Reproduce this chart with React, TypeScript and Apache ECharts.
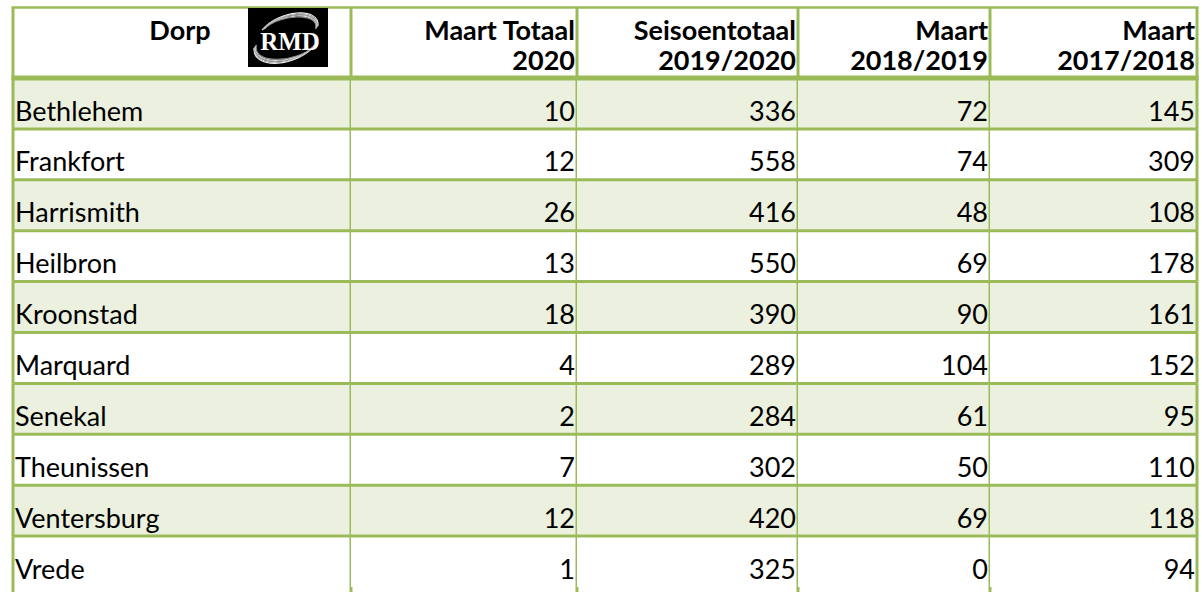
import React, { useEffect, useRef } from "react";
import * as echarts from "echarts";

// ---- data ----
const towns = ["Bethlehem", "Frankfort", "Harrismith", "Heilbron", "Kroonstad", "Marquard", "Senekal", "Theunissen", "Ventersburg", "Vrede"];
const maartTotaal2020 = [10, 12, 26, 13, 18, 4, 2, 7, 12, 1];
const seisoentotaal2019_2020 = [336, 558, 416, 550, 390, 289, 284, 302, 420, 325];
const maart2018_2019 = [72, 74, 48, 69, 90, 104, 61, 50, 69, 0];
const maart2017_2018 = [145, 309, 108, 178, 161, 152, 95, 110, 118, 94];
const headerLines = [
  ["Dorp"],
  ["Maart Totaal", "2020"],
  ["Seisoentotaal", "2019/2020"],
  ["Maart", "2018/2019"],
  ["Maart", "2017/2018"],
];
const logoText = "RMD";

// ---- layout (not data) ----
const W = 1202;
const H = 592;
const LEFT = 13;
const TABLE_W = 1184;
const colEdges = [0, 338, 564, 785, 977, 1184];
const HEAD_TOP = 7.5;
const HEAD_BOTTOM = 78;
const GREEN = "#9BBB59";
const BAND = "#EBF1DE";
const FONT = "Lato, 'Liberation Sans', sans-serif";
const FS = 27;
const LW = 3;

const columns = [towns, maartTotaal2020, seisoentotaal2019_2020, maart2018_2019, maart2017_2018];

export default function App() {
  const ref = useRef<HTMLDivElement>(null);
  useEffect(() => {
    document.body.style.margin = "0";
    if (!ref.current) return;
    const chart = echarts.init(ref.current, null, { renderer: "svg" });

    const cells: any[] = [];
    towns.forEach((_, r) => {
      columns.forEach((_c, c) => cells.push({ value: [c, r] }));
    });
    const lastRow = towns.length - 1;

    const renderItem = (params: any, api: any) => {
      const c = api.value(0);
      const r = api.value(1);
      const p0 = api.coord([colEdges[c], r]);
      const p1 = api.coord([colEdges[c + 1], r]);
      const h = api.size([0, 1])[1];
      const x0 = p0[0];
      const x1 = p1[0];
      const top = p0[1] - h / 2;
      const vBottom = r === lastRow ? top + h + 8 : top + h;
      const children: any[] = [
        {
          type: "rect",
          shape: { x: x0, y: top, width: x1 - x0, height: h },
          style: { fill: r % 2 === 0 ? BAND : "#ffffff" },
        },
      ];
      if (r > 0) {
        children.push({
          type: "line",
          shape: { x1: x0, y1: top, x2: x1, y2: top },
          style: { stroke: GREEN, lineWidth: LW },
        });
      }
      if (c === 0) {
        children.push({
          type: "line",
          shape: { x1: x0, y1: top, x2: x0, y2: vBottom },
          style: { stroke: GREEN, lineWidth: LW },
        });
      }
      children.push({
        type: "line",
        shape: { x1: x1, y1: top, x2: x1, y2: vBottom },
        style: { stroke: GREEN, lineWidth: LW },
      });
      const txt = String(columns[c][r]);
      const isName = c === 0;
      children.push({
        type: "text",
        style: {
          text: txt,
          x: isName ? x0 + 2 : x1 - 2,
          y: top + 32,
          fill: "#000000",
          fontFamily: FONT,
          fontSize: FS,
          align: isName ? "left" : "right",
          textAlign: isName ? "left" : "right",
          verticalAlign: "middle",
          textVerticalAlign: "middle",
        },
      });
      return { type: "group", children };
    };

    // header graphics
    const graphics: any[] = [];
    graphics.push({
      type: "rect",
      z: 1,
      shape: { x: LEFT, y: HEAD_TOP, width: TABLE_W, height: HEAD_BOTTOM - HEAD_TOP },
      style: { fill: "#ffffff" },
    });
    graphics.push({
      type: "line",
      z: 5,
      shape: { x1: LEFT - 1.5, y1: HEAD_TOP, x2: LEFT + TABLE_W + 1.5, y2: HEAD_TOP },
      style: { stroke: GREEN, lineWidth: 2.5 },
    });
    colEdges.forEach((e) => {
      graphics.push({
        type: "line",
        z: 5,
        shape: { x1: LEFT + e, y1: HEAD_TOP, x2: LEFT + e, y2: HEAD_BOTTOM },
        style: { stroke: GREEN, lineWidth: LW },
      });
    });
    graphics.push({
      type: "line",
      z: 6,
      shape: { x1: LEFT - 1.5, y1: HEAD_BOTTOM, x2: LEFT + TABLE_W + 1.5, y2: HEAD_BOTTOM },
      style: { stroke: GREEN, lineWidth: 5 },
    });
    headerLines.forEach((lines, c) => {
      lines.forEach((t, i) => {
        const isFirst = c === 0;
        graphics.push({
          type: "text",
          z: 6,
          style: {
            text: t,
            x: isFirst ? LEFT + (colEdges[0] + colEdges[1]) / 2 - 2 : LEFT + colEdges[c + 1] - 2,
            y: 29.5 + i * 30,
            fill: "#000000",
            fontFamily: FONT,
            fontWeight: "bold",
            fontSize: FS,
            align: isFirst ? "center" : "right",
            textAlign: isFirst ? "center" : "right",
            verticalAlign: "middle",
            textVerticalAlign: "middle",
          },
        });
      });
    });
    // logo
    const lx = 248, ly = 8, lw = 80, lh = 59;
    graphics.push({
      type: "rect",
      z: 7,
      shape: { x: lx, y: ly, width: lw, height: lh },
      style: { fill: "#000000" },
    });
    const greys = ["#f4f4f4", "#cfcfcf", "#a8a8a8", "#e0e0e0", "#8a8a8a"];
    for (let k = 0; k < 5; k++) {
      graphics.push({
        type: "bezierCurve",
        z: 8,
        shape: {
          x1: lx + 14 + k * 0.8, y1: ly + 22 - k * 0.4,
          cpx1: lx + 30, cpy1: ly + 2 + k * 1.2,
          cpx2: lx + 72, cpy2: ly - 2 + k * 1.3,
          x2: lx + 70 - k * 0.6, y2: ly + 18 + k * 0.8,
        },
        style: { stroke: greys[k], lineWidth: 1.1, fill: "none" },
      });
      graphics.push({
        type: "bezierCurve",
        z: 8,
        shape: {
          x1: lx + 6 + k * 0.6, y1: ly + 40 - k * 0.8,
          cpx1: lx + 4, cpy1: ly + 62 - k * 1.2,
          cpx2: lx + 50, cpy2: ly + 60 - k * 1.3,
          x2: lx + 68 - k * 0.6, y2: ly + 36 + k * 0.5,
        },
        style: { stroke: greys[k], lineWidth: 1.1, fill: "none" },
      });
    }
    graphics.push({
      type: "text",
      z: 9,
      style: {
        text: logoText,
        x: lx + 42,
        y: ly + 33,
        fill: "#ffffff",
        fontFamily: "'Liberation Serif', 'DejaVu Serif', serif",
        fontWeight: "bold",
        fontSize: 25,
        align: "center",
        textAlign: "center",
        verticalAlign: "middle",
        textVerticalAlign: "middle",
      },
    });

    chart.setOption({
      animation: false,
      backgroundColor: "#ffffff",
      grid: { left: LEFT, width: TABLE_W, top: HEAD_BOTTOM, height: 509, containLabel: false },
      xAxis: { type: "value", min: 0, max: TABLE_W, show: false },
      yAxis: { type: "category", data: towns, inverse: true, show: false },
      series: [
        {
          type: "custom",
          clip: false,
          renderItem,
          data: cells,
          z: 2,
        },
      ],
      graphic: graphics,
    });
    return () => chart.dispose();
  }, []);
  return <div ref={ref} style={{ width: W, height: H }} />;
}
